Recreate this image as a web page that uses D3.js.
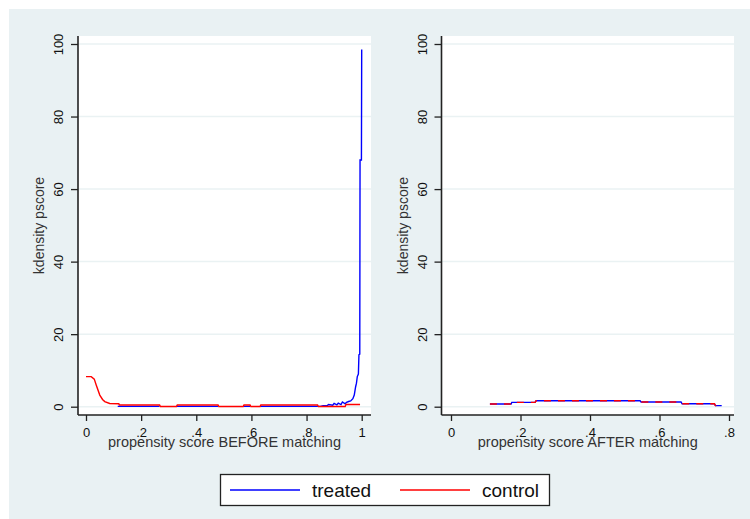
<!DOCTYPE html>
<html>
<head>
<meta charset="utf-8">
<script src="https://cdn.jsdelivr.net/npm/d3@7"></script>
<style>
  body { margin: 0; background: #fff; }
  svg { display: block; font-family: "Liberation Sans", Arial, sans-serif; }
</style>
</head>
<body>
<div id="chart"></div>
<script>
// kdensity of propensity score, before and after matching
const yTicks = [0, 20, 40, 60, 80, 100];
const beforeTicks = [0, 0.2, 0.4, 0.6, 0.8, 1];
const beforeTickLabels = ["0", ".2", ".4", ".6", ".8", "1"];
const afterTicks = [0, 0.2, 0.4, 0.6, 0.8];
const afterTickLabels = ["0", ".2", ".4", ".6", ".8"];

const legendLabels = ["treated", "control"];
const legendColors = ["#0000ff", "#ff0000"];

// BEFORE matching
const beforeControlX = [0, 0.019, 0.03, 0.037, 0.05, 0.06, 0.068, 0.086, 0.119, 0.121, 0.267, 0.27,
  0.328, 0.331, 0.479, 0.482, 0.57, 0.573, 0.595, 0.598, 0.631, 0.634, 0.84, 0.843, 0.94, 0.943, 0.994];
const beforeControlY = [8.3, 8.3, 7.6, 6.0, 3.2, 2.0, 1.4, 0.9, 0.8, 0.45, 0.45, 0.05,
  0.05, 0.45, 0.45, 0.05, 0.05, 0.45, 0.45, 0.05, 0.05, 0.45, 0.45, 0.05, 0.05, 0.6, 0.6];

const beforeTreatedX = [0.115, 0.267, 0.268, 0.328, 0.479, 0.48, 0.57, 0.595, 0.596, 0.631, 0.85,
  0.86, 0.875, 0.88, 0.895, 0.9, 0.91, 0.915, 0.925, 0.93, 0.94, 0.945, 0.955, 0.96, 0.968, 0.973,
  0.978, 0.981, 0.984, 0.988, 0.99, 0.993, 0.994, 0.999, 1.0];
const beforeTreatedY = [0.1, 0.1, null, 0.1, 0.1, null, 0.1, 0.1, null, 0.1, 0.1,
  0.3, 0.3, 0.6, 0.4, 0.9, 0.5, 1.0, 0.6, 1.3, 0.8, 1.2, 1.5, 1.6, 2.2, 3.2,
  5.5, 6.5, 8.3, 9.0, 14.3, 14.5, 68, 68, 98.5];

// AFTER matching (treated and control coincide)
const afterX = [0.112, 0.173, 0.175, 0.242, 0.245, 0.544, 0.547, 0.662, 0.665, 0.758, 0.761, 0.779];
const afterTreatedY = [0.75, 0.75, 1.2, 1.2, 1.65, 1.65, 1.3, 1.3, 0.8, 0.8, 0.3, 0.3];
const afterControlY = [0.75, 0.75, 1.2, 1.2, 1.65, 1.65, 1.3, 1.3, 0.8, 0.8, 0.3, 0.3];

const width = 750, height = 519;
const plotTop = 36, plotBottom = 415;

const svg = d3.select("#chart").append("svg")
  .attr("width", width)
  .attr("height", height);

svg.append("rect")
  .attr("x", 9).attr("y", 9)
  .attr("width", width - 9).attr("height", height - 9)
  .attr("fill", "#e9f1f3");

const y = d3.scaleLinear().domain([0, 100]).range([406.7, 44]);

function zip(xs, ys) {
  return xs.map(function(d, i) { return { x: d, y: ys[i] }; });
}

const panels = [
  {
    left: 78, right: 371, range: [86, 361.7], domain: [0, 1],
    ticks: beforeTicks, labels: beforeTickLabels,
    title: "propensity score BEFORE matching",
    series: [
      { data: zip(beforeTreatedX, beforeTreatedY), color: legendColors[0] },
      { data: zip(beforeControlX, beforeControlY), color: legendColors[1] }
    ]
  },
  {
    left: 441.5, right: 734, range: [451, 729], domain: [0, 0.8],
    ticks: afterTicks, labels: afterTickLabels,
    title: "propensity score AFTER matching",
    series: [
      { data: zip(afterX, afterTreatedY), color: legendColors[0] },
      { data: zip(afterX, afterControlY), color: legendColors[1], dash: "7,7" }
    ]
  }
];

panels.forEach(function(p) {
  const x = d3.scaleLinear().domain(p.domain).range(p.range);
  const g = svg.append("g");

  g.append("rect")
    .attr("x", p.left).attr("y", plotTop)
    .attr("width", p.right - p.left).attr("height", plotBottom - plotTop)
    .attr("fill", "#fff");

  // grid
  g.selectAll("line.grid")
    .data(yTicks)
    .enter().append("line")
    .attr("class", "grid")
    .attr("x1", p.left).attr("x2", p.right)
    .attr("y1", function(d) { return y(d); })
    .attr("y2", function(d) { return y(d); })
    .attr("stroke", "#eaf2f3")
    .attr("stroke-width", 1.5);

  // curves
  const line = d3.line()
    .defined(function(d) { return d.y !== null; })
    .x(function(d) { return x(d.x); })
    .y(function(d) { return y(d.y); });

  p.series.forEach(function(s) {
    g.append("path")
      .datum(s.data)
      .attr("d", line)
      .attr("fill", "none")
      .attr("stroke", s.color)
      .attr("stroke-width", 1.4)
      .attr("stroke-dasharray", s.dash || null);
  });

  // y axis
  const yAxis = g.append("g")
    .attr("transform", "translate(" + p.left + ",0)")
    .call(d3.axisLeft(y).tickValues(yTicks).tickSize(7).tickSizeOuter(0));
  yAxis.select(".domain").attr("d", "M0," + plotTop + "V" + plotBottom)
    .attr("stroke", "#222").attr("stroke-width", 1.6);
  yAxis.selectAll(".tick line").attr("stroke", "#222").attr("stroke-width", 1.3);
  yAxis.selectAll(".tick text")
    .attr("x", 0).attr("dy", null)
    .attr("text-anchor", "middle")
    .attr("transform", "translate(-15,0) rotate(-90)")
    .attr("fill", "#111")
    .style("font-size", "13px")
    .style("font-family", "'Liberation Sans', Arial, sans-serif");

  // x axis
  const xAxis = g.append("g")
    .attr("transform", "translate(0," + plotBottom + ")")
    .call(d3.axisBottom(x).tickValues(p.ticks).tickSize(6).tickSizeOuter(0)
      .tickFormat(function(d, i) { return p.labels[i]; }));
  xAxis.select(".domain").attr("d", "M" + p.left + ",0H" + p.right)
    .attr("stroke", "#222").attr("stroke-width", 1.6);
  xAxis.selectAll(".tick line").attr("stroke", "#222").attr("stroke-width", 1.3);
  xAxis.selectAll(".tick text")
    .attr("y", 22).attr("dy", null)
    .attr("fill", "#111")
    .style("font-size", "13px")
    .style("font-family", "'Liberation Sans', Arial, sans-serif");

  // titles
  g.append("text")
    .attr("x", (p.left + p.right) / 2)
    .attr("y", 447)
    .attr("text-anchor", "middle")
    .attr("fill", "#333")
    .style("font-size", "14.5px")
    .text(p.title);

  g.append("text")
    .attr("transform", "translate(" + (p.left - 34) + "," + ((plotTop + plotBottom) / 2) + ") rotate(-90)")
    .attr("text-anchor", "middle")
    .attr("fill", "#333")
    .style("font-size", "14px")
    .text("kdensity pscore");
});

// legend
const legend = svg.append("g");
legend.append("rect")
  .attr("x", 220.5).attr("y", 474.5)
  .attr("width", 329).attr("height", 31)
  .attr("fill", "#fff")
  .attr("stroke", "#222")
  .attr("stroke-width", 1.3);

const legendX = d3.scalePoint().domain(legendLabels).range([230, 400]);

const items = legend.selectAll("g.item")
  .data(legendLabels)
  .enter().append("g")
  .attr("class", "item")
  .attr("transform", function(d) { return "translate(" + legendX(d) + ",490)"; });

items.append("line")
  .attr("x1", 0).attr("x2", 70)
  .attr("stroke", function(d, i) { return legendColors[i]; })
  .attr("stroke-width", 1.4);

items.append("text")
  .attr("x", 82)
  .attr("y", 7)
  .attr("fill", "#111")
  .style("font-size", "19px")
  .text(function(d) { return d; });
</script>
</body>
</html>
